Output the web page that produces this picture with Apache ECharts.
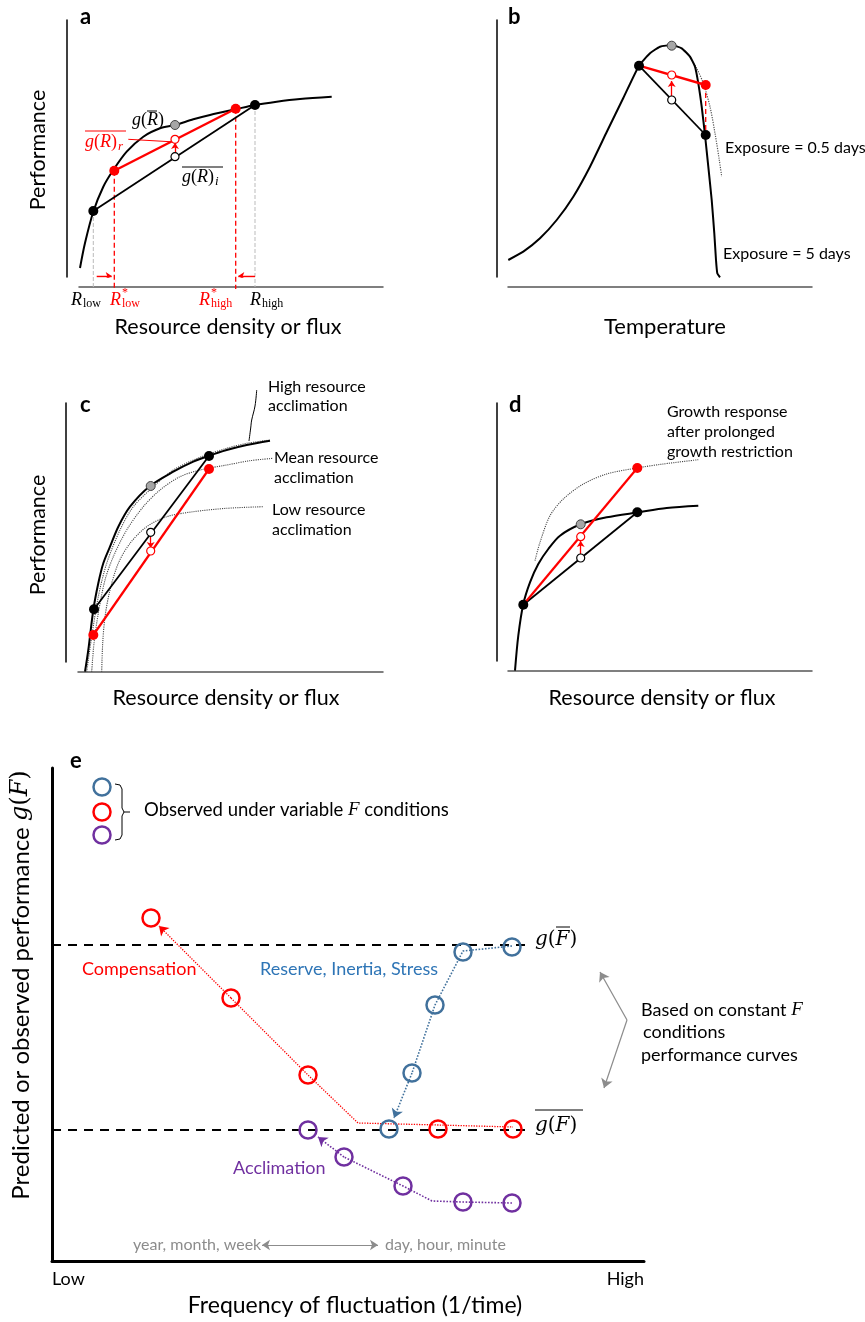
<!DOCTYPE html>
<html><head><meta charset="utf-8">
<script src="https://cdn.jsdelivr.net/npm/echarts@6/dist/echarts.min.js"></script>
<style>html,body{margin:0;padding:0;background:#fff}#c{width:865px;height:1322px}</style>
</head><body><div id="c"></div>
<script>
// ---------------- DATA (panel units) ----------------
// Panel a: performance curve vs resource
const aCurve = [[1,9],[6,34],[14.3,65.3],[24.3,90.3],[34.3,107],[47.7,125.3],[64.3,140.3],[81,148.7],[96,152],[114.3,157.7],[131,162],[157.7,168],[176,172],[197.7,175.3],[221,178],[252.7,180.3]];
const aBlackPts = [[14.3,66],[176,172]];
const aRedPts = [[35.3,106.3],[156.7,168.3]];
const aGrayPt = [[96,152]];
const aHollowBlack = [[96,120.3]];
const aHollowRed = [[96,137.7]];
const aArrow = [[96,125],[96,134]];
const aLowShift = [[17.7,1],[32.7,1]];
const aHighShift = [[176,1],[159.3,1]];
const aLeader = [[49.3,137.7],[91,135.3]];

// Panel b: thermal performance curves
const bCurve5 = [[0.3,17],[15.3,25.3],[32,38.7],[48.7,57],[65.3,80.3],[82,110.3],[98.7,145],[115.3,179],[131,211.3],[142,223.7],[152,230.3],[163.7,232],[173.7,228.7],[182,220.3],[187,210.3],[190.3,193.7],[193.7,170.3],[197,142],[200.3,110.3],[203.7,77],[206.3,43.7],[208,17],[209.3,3.7],[212,-0.3]];
const bCurve05 = [[182,220.3],[188.7,208.7],[195.3,193.7],[202,170.3],[207,143.7],[211.3,117],[213.7,100.3]];
const bBlackPts = [[131,211.3],[197.7,142]];
const bRedPts = [[197.7,192]];
const bGrayPt = [[163.7,231.3]];
const bHollowRed = [[163.7,202]];
const bHollowBlack = [[163.7,177]];
const bArrow = [[163.7,181],[163.7,196]];

// Panel c: acclimation curves
const cHigh = [[7,-9.7],[10.3,12],[15.3,52],[20.3,78.7],[25.3,98.7],[32,115.3],[40.3,135.3],[52,155.3],[72,176],[95.3,190.3],[115.3,200.3],[130.3,206],[148.7,212],[168.7,217],[192,221.3]];
const cHighDot = [[8.7,-9.7],[13.7,25.3],[20.3,65.3],[28.7,98.7],[42,132],[55.3,155.3],[75.3,175.3],[95.3,192],[122,204.7],[148.7,213.7],[168.7,218.7],[192,222]];
const cMeanDot = [[13.7,-9.7],[16,18.7],[20.3,48.7],[27,82],[35.3,105.3],[48.7,132],[65.3,155.3],[82,172],[102,185.3],[122,192],[148.7,197],[172,201.3],[195.3,203.7]];
const cLowDot = [[23.7,-9.7],[24.7,18.7],[27,45.3],[32,72],[40.3,98.7],[52,118.7],[68.7,135.3],[88.7,145.3],[115.3,150.3],[148.7,153.7],[185.3,155.3]];
const cBlackPts = [[16,52.7],[131,206]];
const cRedPts = [[15.3,27],[131,193]];
const cGrayPt = [[72.7,176]];
const cHollowBlack = [[72.7,129.7]];
const cHollowRed = [[72.7,111]];
const cArrow = [[72.7,125],[72.7,114]];
const cLeader = [[178.7,272],[177,256],[173.7,242],[172.7,234],[171,221]];

// Panel d: growth restriction
const dCurve = [[7,-9.7],[10.3,25.3],[15.3,57],[22,78.7],[30.3,97],[40.3,112],[52,125.3],[72.7,136.7],[98.7,143.7],[130.3,148.7],[158.7,153],[190.3,155.3]];
const dDotted = [[27,100.3],[32,118.7],[42,145.3],[55.3,162],[75.3,177],[98.7,187],[128.7,193],[155.3,197],[190.3,201.3]];
const dBlackPts = [[15.3,56.3],[129.3,148.7]];
const dRedPts = [[129.3,193]];
const dGrayPt = [[72.7,136.7]];
const dHollowBlack = [[72.7,103]];
const dHollowRed = [[72.7,124.3]];
const dArrow = [[72.7,107],[72.7,120]];

// Panel e: performance vs frequency of fluctuation
const eXTicks = ['Low','High'];
const eRed = [[99,343],[179,263],[256,186],[386,132],[461,132]];
const eRedPath = [[179,263],[256,186],[306,138],[386,136],[461,134]];
const eRedTip = [[179,263],[107,335]];
const eBlue = [[337,132],[360,188],[383,256],[411,309],[460,314]];
const eBluePath = [[460,315],[411,310],[383,256],[360,188]];
const eBlueTip = [[360,188],[342,143]];
const ePurple = [[256,131],[292,104],[351,75],[411,59],[460,58]];
const ePurplePath = [[460,58],[411,59],[380,60],[351,75],[292,104]];
const ePurpleTip = [[292,104],[266,124]];
const eMeanLine = [[0,316],[476,316]];
const eAvgLine = [[0,131],[476,131]];
const eLegendBlue = [[50,474]];
const eLegendRed = [[50,449]];
const eLegendPurple = [[50,426]];
const eBracket = [[63,477],[68,476],[70,472],[70,453],[72,449],[70,445],[70,426],[68,422],[63,421]];
const eBracketTick = [[72,449],[78,449]];
const eSideArrowA = [[575,241],[548,289]];
const eSideArrowB = [[575,241],[552,173]];
const eTimeArrow = [[210,16],[326,16]];

// ---------------- LAYOUT ----------------
const grids = [
  {left:79,  top:20,  width:304, height:257, xoff:10, yoff:12},
  {left:508, top:20,  width:304, height:257, xoff:10, yoff:11},
  {left:78,  top:403, width:305, height:259, xoff:10, yoff:12},
  {left:508, top:403, width:304, height:258, xoff:10, yoff:11},
  {left:52,  top:768, width:592, height:493, xoff:0,  yoff:0}
];
const RED = '#ff0000', BLUE = '#41719c', PURPLE = '#7030a0', GRAY = '#8c8c8c';
const SANS = 'Lato', SERIF = 'Liberation Serif', MSERIF = 'DejaVu Serif';

const series = [];
function line(g, data, color, width, type, smooth, z) {
  series.push({type:'line', xAxisIndex:g, yAxisIndex:g, data, showSymbol:false, symbol:'none',
    smooth: smooth || false, clip:false, silent:true, z: z||2,
    lineStyle:{color, width, type: type||'solid'}});
}
function pts(g, data, fill, size, border, bw, z) {
  series.push({type:'scatter', xAxisIndex:g, yAxisIndex:g, data, symbol:'circle', symbolSize:size,
    clip:false, silent:true, z: z||5,
    itemStyle:{color:fill, borderColor:border||fill, borderWidth:bw||0, opacity:1}});
}
function arrow(g, seg, color, width, type, size, both) {
  series.push({type:'lines', coordinateSystem:'cartesian2d', xAxisIndex:g, yAxisIndex:g,
    data:[{coords:seg}], symbol: both ? ['arrow','arrow'] : ['none','arrow'], symbolSize:size||7,
    silent:true, z:4, lineStyle:{color, width, type:type||'solid', opacity:1, curveness:0}});
}

// Panel a
line(0, aCurve, '#000', 2, 'solid', 0.3);
line(0, [[aBlackPts[0][0], aBlackPts[0][1]], [aBlackPts[0][0], -10]], '#bbb', 1, 'dashed');
line(0, [[aBlackPts[1][0], aBlackPts[1][1]], [aBlackPts[1][0], -10]], '#bbb', 1, 'dashed');
line(0, [[aRedPts[0][0], aRedPts[0][1]], [aRedPts[0][0], -12]], RED, 1.3, [5,3]);
line(0, [[aRedPts[1][0], aRedPts[1][1]], [aRedPts[1][0], -12]], RED, 1.3, [5,3]);
line(0, aBlackPts, '#000', 1.8);
line(0, aRedPts, RED, 2.4);
line(0, aLeader, RED, 1);
arrow(0, aArrow, RED, 1.3, 'solid', 6);
arrow(0, aLowShift, RED, 1.3, 'solid', 6);
arrow(0, aHighShift, RED, 1.3, 'solid', 6);
pts(0, aBlackPts, '#000', 10);
pts(0, aRedPts, RED, 10);
pts(0, aGrayPt, '#a6a6a6', 9, '#444', 1);
pts(0, aHollowBlack, '#fff', 8, '#000', 1.2);
pts(0, aHollowRed, '#fff', 8, RED, 1.2);

// Panel b
line(1, bCurve05, '#555', 1.2, 'dotted', 0.3);
line(1, bCurve5, '#000', 2, 'solid', 0.15);
line(1, [bRedPts[0], bBlackPts[1]], RED, 1.3, [5,3]);
line(1, bBlackPts, '#000', 1.8);
line(1, [bBlackPts[0], bRedPts[0]], RED, 2.4);
arrow(1, bArrow, RED, 1.3, 'solid', 6);
pts(1, bBlackPts, '#000', 10);
pts(1, bRedPts, RED, 10);
pts(1, bGrayPt, '#a6a6a6', 9, '#444', 1);
pts(1, bHollowBlack, '#fff', 8, '#000', 1.2);
pts(1, bHollowRed, '#fff', 8, RED, 1.2);

// Panel c
line(2, cHighDot, '#444', 1.1, 'dotted', 0.3);
line(2, cMeanDot, '#444', 1.1, 'dotted', 0.3);
line(2, cLowDot, '#444', 1.1, 'dotted', 0.3);
line(2, cHigh, '#000', 2, 'solid', 0.3);
line(2, cLeader, '#000', 1, 'solid', 0.4);
line(2, cBlackPts, '#000', 1.8);
line(2, cRedPts, RED, 2.2);
arrow(2, cArrow, RED, 1.3, 'solid', 6);
pts(2, cBlackPts, '#000', 10);
pts(2, cRedPts, RED, 10);
pts(2, cGrayPt, '#a6a6a6', 9, '#444', 1);
pts(2, cHollowBlack, '#fff', 8, '#000', 1.2);
pts(2, cHollowRed, '#fff', 8, RED, 1.2);

// Panel d
line(3, dDotted, '#444', 1.1, 'dotted', 0.3);
line(3, dCurve, '#000', 2, 'solid', 0.3);
line(3, [dBlackPts[0], dBlackPts[1]], '#000', 1.8);
line(3, [dBlackPts[0], dRedPts[0]], RED, 2.2);
arrow(3, dArrow, RED, 1.3, 'solid', 6);
pts(3, dBlackPts, '#000', 10);
pts(3, dRedPts, RED, 10);
pts(3, dGrayPt, '#a6a6a6', 9, '#444', 1);
pts(3, dHollowBlack, '#fff', 8, '#000', 1.2);
pts(3, dHollowRed, '#fff', 8, RED, 1.2);

// Panel e
line(4, eMeanLine, '#000', 2, [9,7]);
line(4, eAvgLine, '#000', 2, [9,7]);
line(4, eRedPath, RED, 1.3, 'dotted');
arrow(4, eRedTip, RED, 1.3, 'dotted', 9);
line(4, eBluePath, BLUE, 1.6, 'dotted');
arrow(4, eBlueTip, BLUE, 1.6, 'dotted', 9);
line(4, ePurplePath, PURPLE, 1.6, 'dotted');
arrow(4, ePurpleTip, PURPLE, 1.6, 'dotted', 9);
line(4, eBracket, '#000', 1);
line(4, eBracketTick, '#000', 1);
arrow(4, eSideArrowA, GRAY, 1.2, 'solid', 9);
arrow(4, eSideArrowB, GRAY, 1.2, 'solid', 9);
arrow(4, eTimeArrow, GRAY, 1.2, 'solid', 8, true);
const OPEN = 'rgba(255,255,255,0)';
pts(4, eRed, OPEN, 17, RED, 2.5, 6);
pts(4, eBlue, OPEN, 17, BLUE, 2.5, 6);
pts(4, ePurple, OPEN, 17, PURPLE, 2.5, 6);
pts(4, eLegendBlue, OPEN, 17, BLUE, 2.5, 6);
pts(4, eLegendRed, OPEN, 17, RED, 2.5, 6);
pts(4, eLegendPurple, OPEN, 17, PURPLE, 2.5, 6);

// ---------------- AXES ----------------
const xAxis = grids.map((g, i) => {
  const isE = i === 4;
  return {gridIndex:i, type:'value', min:0, max:g.width, interval:g.width, offset:g.xoff,
    axisLine:{show:true, onZero:false, lineStyle:{color: isE ? '#000' : '#555', width: isE ? 3 : 1.5}},
    axisTick:{show:false}, splitLine:{show:false},
    axisLabel: isE ? {show:true, margin:9, fontSize:18, fontFamily:SANS, color:'#000',
      alignMinLabel:'left', alignMaxLabel:'right',
      formatter: v => v === 0 ? eXTicks[0] : eXTicks[1]} : {show:false}};
});
const yAxis = grids.map((g, i) => ({gridIndex:i, type:'value', min:0, max:g.height, offset:g.yoff,
  axisLine:{show:true, onZero:false, lineStyle:{color:'#000', width: i===4 ? 3 : 1.5}},
  axisTick:{show:false}, splitLine:{show:false}, axisLabel:{show:false}}));

// ---------------- TEXT ----------------
function txt(x, y, t, o) {
  o = o || {};
  const al = o.a || 'left';
  return {type:'text', x, y, rotation:o.rot || 0, silent:true, z:50,
    style:{text:t, fill:o.c || '#000', fontSize:o.s || 18, fontFamily:o.f || SANS,
      fontStyle:o.i ? 'italic' : 'normal', fontWeight:o.b ? 'bold' : 'normal',
      align:al, textAlign:al, verticalAlign:'middle', textVerticalAlign:'middle', rich:o.rich}};
}
function ol(x1, x2, y, c) {
  return {type:'line', silent:true, z:50, shape:{x1, y1:y, x2, y2:y}, style:{stroke:c || '#000', lineWidth:1}};
}
function mrich(c, s, ts, ff) {
  return {i:{fontFamily:ff || SERIF, fontStyle:'italic', fontSize:s, fill:c},
          n:{fontFamily:ff || SERIF, fontSize:s, fill:c},
          t:{fontFamily:SANS, fontSize:ts || s, fill:c}};
}
const gF = '{i|g}{n|(}{i|F}{n|)}';
const gR = '{i|g}{n|(}{i|R}{n|)}';
const graphic = [
  txt(80, 17, 'a', {b:true, s:22}),
  txt(508, 17, 'b', {b:true, s:22}),
  txt(80, 405, 'c', {b:true, s:22}),
  txt(509, 405, 'd', {b:true, s:22}),
  txt(70, 761, 'e', {b:true, s:22}),
  txt(38, 150, 'Performance', {rot:Math.PI/2, a:'center', s:21.5}),
  txt(38, 535, 'Performance', {rot:Math.PI/2, a:'center', s:21.5}),
  txt(228, 327, 'Resource density or flux', {a:'center', s:21.5}),
  txt(665, 327, 'Temperature', {a:'center', s:22}),
  txt(226, 698, 'Resource density or flux', {a:'center', s:21.5}),
  txt(662, 698, 'Resource density or flux', {a:'center', s:21.5}),
  txt(355, 1306, 'Frequency of fluctuation (1/time)', {a:'center', s:23}),
  txt(21, 985, '{t|Predicted or observed performance }' + gF, {rot:Math.PI/2, a:'center', s:24, rich:mrich('#000', 24, 24, MSERIF)}),
  // panel a math labels
  txt(132, 120, gR, {rich:mrich('#000', 18)}), ol(147, 157, 111),
  txt(85, 142, gR, {rich:mrich(RED, 18)}), txt(118, 147, 'r', {f:SERIF, i:true, s:13, c:RED}), ol(85, 126, 131, RED),
  txt(182, 177, gR, {rich:mrich('#000', 18)}), txt(215, 182, 'i', {f:SERIF, i:true, s:13}), ol(182, 223, 167),
  txt(71, 300, 'R', {f:SERIF, i:true, s:18}), txt(83, 304, 'low', {f:SERIF, s:12}),
  txt(110, 300, 'R', {f:SERIF, i:true, s:18, c:RED}), txt(122, 293, '*', {f:SERIF, s:12, c:RED}), txt(122, 304, 'low', {f:SERIF, s:12, c:RED}),
  txt(199, 300, 'R', {f:SERIF, i:true, s:18, c:RED}), txt(211, 293, '*', {f:SERIF, s:12, c:RED}), txt(211, 304, 'high', {f:SERIF, s:12, c:RED}),
  txt(250, 300, 'R', {f:SERIF, i:true, s:18}), txt(262, 304, 'high', {f:SERIF, s:12}),
  // panel b
  txt(725, 148, 'Exposure = 0.5 days', {s:16}),
  txt(723, 254, 'Exposure = 5 days', {s:16}),
  // panel c
  txt(268, 387, 'High resource', {s:16}), txt(268, 406, 'acclimation', {s:16}),
  txt(274, 458, 'Mean resource', {s:16}), txt(274, 478, 'acclimation', {s:16}),
  txt(272, 510, 'Low resource', {s:16}), txt(272, 530, 'acclimation', {s:16}),
  // panel d
  txt(667, 412, 'Growth response', {s:16}), txt(667, 432, 'after prolonged', {s:16}), txt(667, 452, 'growth restriction', {s:16}),
  // panel e
  txt(144, 810, '{t|Observed under variable }{i|F}{t| conditions}', {rich:mrich('#000', 19, 18.5)}),
  txt(82, 969, 'Compensation', {c:RED, s:18}),
  txt(260, 969, 'Reserve, Inertia, Stress', {c:'#2e75b6', s:18}),
  txt(233, 1168, 'Acclimation', {c:PURPLE, s:18}),
  txt(535, 940, gF, {rich:mrich('#000', 20, 20, MSERIF)}), ol(556, 570, 927),
  txt(535, 1126, gF, {rich:mrich('#000', 20, 20, MSERIF)}), ol(535, 583, 1110),
  txt(641, 1010, '{t|Based on constant }{i|F}', {rich:mrich('#000', 19, 18)}),
  txt(643, 1032, 'conditions', {s:18}),
  txt(641, 1055, 'performance curves', {s:18}),
  txt(133, 1245, 'year, month, week', {c:GRAY, s:16}),
  txt(385, 1245, 'day, hour, minute', {c:GRAY, s:16})
];

const chart = echarts.init(document.getElementById('c'), null, {renderer:'canvas'});
chart.setOption({
  animation:false,
  backgroundColor:'#fff',
  grid: grids.map(g => ({left:g.left, top:g.top, width:g.width, height:g.height, containLabel:false})),
  xAxis, yAxis, series, graphic
});
</script></body></html>
